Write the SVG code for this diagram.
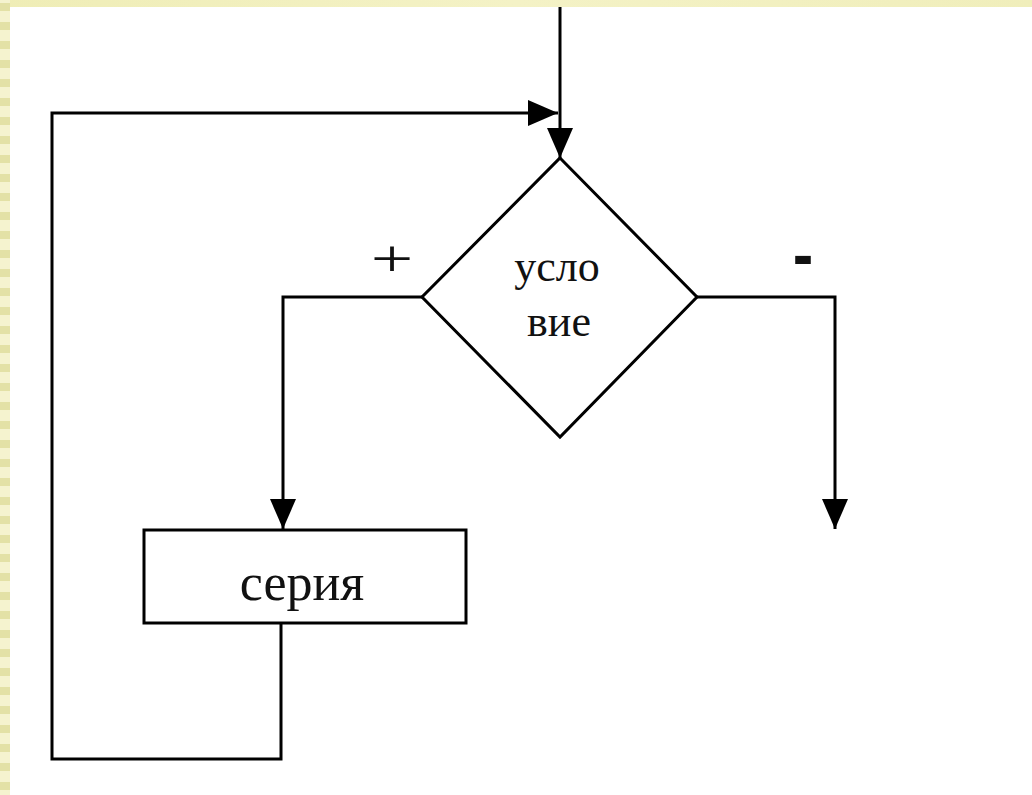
<svg xmlns="http://www.w3.org/2000/svg" width="1032" height="795" viewBox="0 0 1032 795">
  <defs>
    <linearGradient id="topband" x1="0" y1="0" x2="1" y2="0">
      <stop offset="0" stop-color="#efedb6"/>
      <stop offset="0.5" stop-color="#f4f2c6"/>
      <stop offset="1" stop-color="#f0eebb"/>
    </linearGradient>
    <pattern id="stripes" x="0" y="0" width="10" height="19" patternUnits="userSpaceOnUse">
      <rect x="0" y="0" width="10" height="19" fill="#f5f3cf"/>
      <rect x="0" y="3" width="10" height="8" fill="#e3e1a6"/>
    </pattern>
    <marker id="arrow" viewBox="0 0 30 26" refX="30" refY="13" markerWidth="30" markerHeight="26" markerUnits="userSpaceOnUse" orient="auto">
      <path d="M0,0 L30,13 L0,26 Z" fill="#000"/>
    </marker>
    <style>
      .line { fill: none; stroke: #000; stroke-width: 3; stroke-linejoin: miter; }
      .shape { fill: #fff; stroke: #000; stroke-width: 3; }
      .label { font-family: "Liberation Serif", "Times New Roman", serif; fill: #111; text-anchor: middle; }
    </style>
  </defs>

  <rect x="0" y="0" width="1032" height="795" fill="#fff"/>
  <rect x="0" y="0" width="1032" height="7" fill="url(#topband)"/>
  <rect x="0" y="0" width="10" height="795" fill="url(#stripes)"/>

  <g id="connectors">
    <line class="line" x1="560" y1="7" x2="560" y2="158" marker-end="url(#arrow)"/>
    <polyline class="line" points="281,623 281,759 52,759 52,113 558,113" marker-end="url(#arrow)"/>
    <polyline class="line" points="422,297 283,297 283,529" marker-end="url(#arrow)"/>
    <polyline class="line" points="697,297 835,297 835,529" marker-end="url(#arrow)"/>
  </g>

  <g id="condition">
    <polygon class="shape" points="560,158 697,297 560,437 422,297"/>
    <text class="label" x="557" y="281" font-size="44">усло</text>
    <text class="label" x="559" y="336" font-size="44">вие</text>
  </g>

  <g id="series">
    <rect class="shape" x="144" y="530" width="322" height="93"/>
    <text class="label" x="302" y="600" font-size="52" fill="#222">серия</text>
  </g>

  <g id="labels">
    <text class="label" transform="translate(392,276) scale(1.45,1)" x="0" y="0" font-size="52">+</text>
    <text class="label" transform="translate(803,282) scale(1,1.6)" x="0" y="0" font-size="60" font-weight="bold">-</text>
  </g>
</svg>
